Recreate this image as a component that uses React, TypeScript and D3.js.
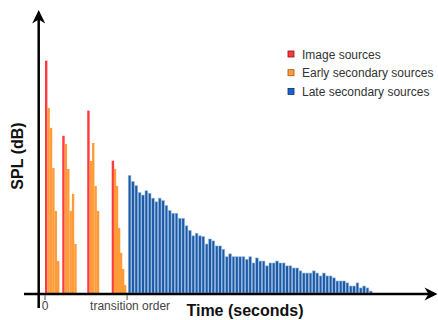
import React, { useEffect, useRef } from 'react';
import * as d3 from 'd3';

// image sources (red): arrival time and level
const imageTimes = [0, 7.2, 17.6, 27.8];
const imageLevels = [96.8, 65.5, 76.0, 55.1];

// early secondary sources (orange), following each image source
const earlyTimes = [
  1, 2, 3, 4, 5,
  8.2, 9.2, 10.2, 11.2, 12.2,
  18.6, 19.6, 20.6, 21.6,
  28.65, 29.5, 30.35, 31.2, 32.05, 32.9,
];
const earlyLevels = [
  77.1, 68.8, 52.1, 34.2, 13.3,
  62.1, 51.7, 34.2, 41.3, 20.4,
  55.0, 62.5, 44.6, 34.2,
  51.7, 44.6, 27.1, 16.7, 10.0, 3.3,
];

// late secondary sources (blue), evenly binned after the transition order
const lateStart = 34.7;
const lateStep = 1.396;
const lateLevels = [
  48.9, 46.4, 44.7, 41.8, 40.8, 42.6, 41.5, 39.5, 38.0, 39.5,
  38.5, 36.4, 34.3, 33.2, 33.2, 31.1, 31.1, 28.0, 26.0, 23.8,
  24.9, 23.8, 23.5, 20.4, 22.5, 21.7, 19.6, 19.6, 18.2, 15.1,
  16.3, 15.1, 15.1, 15.1, 15.1, 14.0, 15.1, 12.5, 14.6, 13.3,
  13.3, 11.3, 12.5, 12.5, 13.3, 12.5, 12.5, 11.3, 11.3, 10.4,
  10.4, 9.2, 8.3, 8.3, 8.3, 9.2, 8.3, 7.1, 8.3, 7.1,
  7.1, 6.3, 5.0, 5.0, 5.0, 4.2, 2.9, 2.9, 4.2, 2.1,
  2.9, 2.1, 0.8,
];

const legendLabels = ['Image sources', 'Early secondary sources', 'Late secondary sources'];
const tickTimes = [0, 34.2];
const tickLabels = ['0', 'transition order'];

const FONT = '"Liberation Sans", Arial, sans-serif';

const App = () => {
  const svgRef = useRef<SVGSVGElement>(null);

  useEffect(() => {
    const svg = d3.select(svgRef.current);
    svg.selectAll('*').remove();

    const x = d3.scaleLinear().domain([0, 140]).range([45, 381]);
    const y = d3.scaleLinear().domain([0, 100]).range([293, 53]);
    const slot = x(1) - x(0);

    // red image sources are drawn first, orange on top of neighbours
    svg.append('g')
      .selectAll('rect')
      .data(imageLevels)
      .enter()
      .append('rect')
      .attr('x', (d, i) => x(imageTimes[i]))
      .attr('y', d => y(d))
      .attr('width', slot)
      .attr('height', d => y(0) - y(d))
      .attr('fill', '#ff3a3f');

    svg.append('g')
      .selectAll('rect')
      .data(earlyLevels)
      .enter()
      .append('rect')
      .attr('x', (d, i) => x(earlyTimes[i]))
      .attr('y', d => y(d))
      .attr('width', slot)
      .attr('height', d => y(0) - y(d))
      .attr('fill', '#ff9b38');

    const lateW = (x(lateStep) - x(0)) * 0.78;
    svg.append('g')
      .selectAll('rect')
      .data(lateLevels)
      .enter()
      .append('rect')
      .attr('x', (d, i) => x(lateStart + i * lateStep))
      .attr('y', d => y(d))
      .attr('width', lateW)
      .attr('height', d => y(0) - y(d))
      .attr('fill', '#1d5aa6')
      .attr('stroke', '#8db2de')
      .attr('stroke-width', 0.6);

    // axes with arrow heads
    const ax = svg.append('g');
    ax.append('line')
      .attr('x1', 38.7).attr('x2', 38.7)
      .attr('y1', 16).attr('y2', 308)
      .attr('stroke', '#000').attr('stroke-width', 2.5);
    ax.append('path')
      .attr('d', 'M38.7,10 L32.2,23.5 L38.7,19.5 L45.2,23.5 Z')
      .attr('fill', '#000');
    ax.append('line')
      .attr('x1', 24).attr('x2', 432)
      .attr('y1', 294).attr('y2', 294)
      .attr('stroke', '#000').attr('stroke-width', 2.5);
    ax.append('path')
      .attr('d', 'M437.5,294 L424.5,287.5 L428.5,294 L424.5,300.5 Z')
      .attr('fill', '#000');

    const ticks = svg.append('g');
    tickTimes.forEach((t, i) => {
      ticks.append('line')
        .attr('x1', x(t)).attr('x2', x(t))
        .attr('y1', 295).attr('y2', 300)
        .attr('stroke', '#555').attr('stroke-width', 1);
      ticks.append('text')
        .attr('x', i === 0 ? x(t) : x(t) + 3)
        .attr('y', 310)
        .attr('text-anchor', 'middle')
        .attr('font-family', FONT)
        .attr('font-size', 12)
        .attr('fill', '#444')
        .text(tickLabels[i]);
    });

    svg.append('text')
      .attr('x', 245)
      .attr('y', 316)
      .attr('text-anchor', 'middle')
      .attr('font-family', FONT)
      .attr('font-weight', 'bold')
      .attr('font-size', 16)
      .attr('fill', '#111')
      .text('Time (seconds)');

    svg.append('text')
      .attr('transform', 'translate(23,156) rotate(-90)')
      .attr('text-anchor', 'middle')
      .attr('font-family', FONT)
      .attr('font-weight', 'bold')
      .attr('font-size', 16)
      .attr('fill', '#111')
      .text('SPL (dB)');

    // legend
    const fills = ['#ff3a3f', '#ff9b38', '#1463d0'];
    const strokes = ['#8a1010', '#9a5a10', '#0d2f6a'];
    const legend = svg.append('g');
    legendLabels.forEach((lab, i) => {
      const cy = 54 + i * 18.7;
      legend.append('rect')
        .attr('x', 288).attr('y', cy - 3)
        .attr('width', 6).attr('height', 6)
        .attr('fill', fills[i])
        .attr('stroke', strokes[i])
        .attr('stroke-width', 0.8);
      legend.append('text')
        .attr('x', 302)
        .attr('y', cy + 4.5)
        .attr('font-family', FONT)
        .attr('font-size', 12)
        .attr('fill', '#333')
        .text(lab);
    });
  }, []);

  return (
    <svg
      ref={svgRef}
      width={438}
      height={320}
      style={{ position: 'absolute', left: 0, top: 0, background: '#fff' }}
    ></svg>
  );
};

export default App;
